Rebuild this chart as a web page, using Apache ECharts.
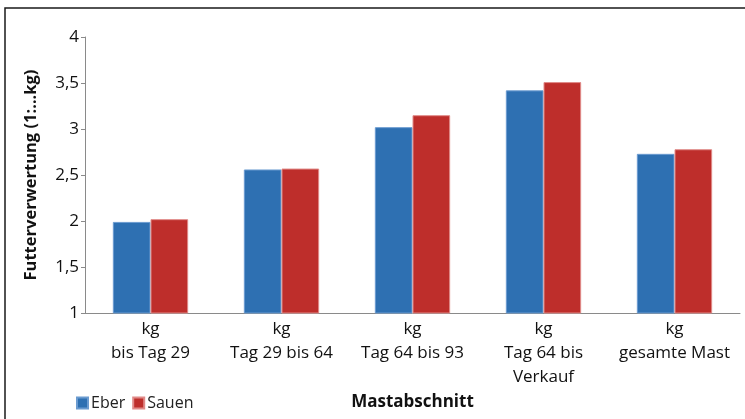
<!DOCTYPE html>
<html>
<head>
<meta charset="utf-8">
<script src="https://cdn.jsdelivr.net/npm/echarts@6/dist/echarts.min.js"></script>
<style>
  html, body { margin: 0; padding: 0; background: #fff; }
  #chart { width: 745px; height: 419px; }
</style>
</head>
<body>
<div id="chart"></div>
<script>
// Feed conversion per fattening phase (1 : ... kg)
const categories = [
  'kg\nbis Tag 29',
  'kg\nTag 29 bis 64',
  'kg\nTag 64 bis 93',
  'kg\nTag 64 bis\nVerkauf',
  'kg\ngesamte Mast'
];
const eber = [1.99, 2.56, 3.02, 3.42, 2.73];
const sauen = [2.02, 2.57, 3.15, 3.51, 2.78];
const seriesNames = ['Eber', 'Sauen'];

const FONT = '"Open Sans", "Noto Sans", sans-serif';
const chart = echarts.init(document.getElementById('chart'), null, { renderer: 'canvas' });

chart.setOption({
  animation: false,
  backgroundColor: '#fff',
  graphic: [{
    type: 'rect',
    shape: { x: 5, y: 8, width: 900, height: 600 },
    style: { fill: 'none', stroke: '#1a1a1a', lineWidth: 1.5 },
    silent: true
  }],
  grid: { left: 85, right: 5, top: 37, bottom: 106 },
  legend: {
    left: 71,
    top: 390,
    itemWidth: 11,
    itemHeight: 11,
    itemGap: 7,
    icon: 'rect',
    textStyle: { fontFamily: FONT, fontSize: 16, color: '#222', padding: [0, 0, 0, -2] },
    data: seriesNames
  },
  xAxis: {
    type: 'category',
    data: categories,
    name: 'Mastabschnitt',
    nameLocation: 'middle',
    nameGap: 78,
    nameTextStyle: { fontFamily: FONT, fontSize: 17, fontWeight: 'bold', color: '#111' },
    axisLine: { lineStyle: { color: '#8a8a8a', width: 1 } },
    axisTick: { length: 44, lineStyle: { color: '#8a8a8a' } },
    axisLabel: {
      fontFamily: FONT, fontSize: 17, color: '#111',
      lineHeight: 24, margin: 4, interval: 0
    },
    splitLine: { show: false }
  },
  yAxis: {
    type: 'value',
    min: 1,
    max: 4,
    interval: 0.5,
    name: 'Futterverwertung (1:...kg)',
    nameLocation: 'middle',
    nameGap: 45,
    nameTextStyle: { fontFamily: FONT, fontSize: 16.5, fontWeight: 'bold', color: '#111' },
    axisLine: { show: true, lineStyle: { color: '#8a8a8a', width: 1 } },
    axisTick: { show: true, length: 4, lineStyle: { color: '#8a8a8a' } },
    axisLabel: {
      fontFamily: FONT, fontSize: 17, color: '#111', margin: 6,
      formatter: v => String(v).replace('.', ',')
    },
    splitLine: { show: false }
  },
  series: [
    {
      name: seriesNames[0],
      type: 'bar',
      data: eber,
      barGap: '0%',
      barCategoryGap: '42.5%',
      itemStyle: { color: '#2e70b2', borderColor: '#6b9bd0', borderWidth: 1 }
    },
    {
      name: seriesNames[1],
      type: 'bar',
      data: sauen,
      itemStyle: { color: '#be2e2b', borderColor: '#e08a88', borderWidth: 1 }
    }
  ]
});
</script>
</body>
</html>
